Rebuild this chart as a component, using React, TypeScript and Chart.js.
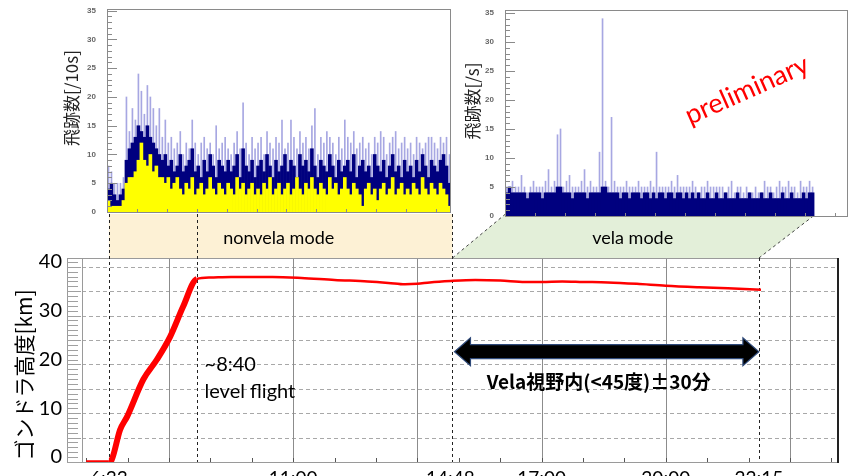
import React, { useEffect, useRef } from "react";
import { Chart, registerables } from "chart.js";
Chart.register(...registerables);

// ---------- bottom chart: gondola altitude ----------
const ALT_TIME_H = [6.0, 6.55, 6.62, 6.82, 6.99, 7.38, 7.71, 8.03, 8.34, 8.67, 9.0, 9.5, 10.5, 11.2, 12.0, 12.8, 13.3, 13.7, 14.0, 14.3, 14.8, 15.4, 16.0, 16.6, 17.0, 17.5, 18.0, 18.6, 19.3, 20.0, 20.8, 21.5, 22.3];
const ALT_KM = [0, 0, 0.5, 6.6, 9.3, 16.9, 21.0, 25.7, 31.8, 37.5, 37.8, 37.9, 37.9, 37.7, 37.3, 37.0, 36.7, 36.4, 36.5, 36.8, 37.1, 37.3, 37.2, 36.9, 36.9, 37.0, 36.9, 36.8, 36.5, 36.1, 35.8, 35.6, 35.3];
const X_TICK_VALUES = [6.55, 11, 14.8, 17, 20, 22.25];
const X_TICK_LABELS = ["6:33", "11:00", "14:48", "17:00", "20:00", "22:15"];
const X_GRID_HOURS = [8, 11, 14, 17, 20, 23];
const Y_TICKS = [0, 10, 20, 30, 40];
const T_START = 6.55; // 6:33
const T_LEVEL = 8.667; // 8:40
const T_VELA_START = 14.8; // 14:48
const T_VELA_END = 22.25; // 22:15
const ARROW_KM = 22.6;

// ---------- top-left histogram: nonvela mode [/10s] ----------
const NV_DARK = [
  4, 5, 3, 2, 3, 4, 9, 11, 12, 13,
  15, 14, 13, 15, 13, 12, 11, 10, 9, 10,
  8, 9, 7, 8, 10, 7, 8, 9, 11, 7,
  8, 6, 9, 7, 10, 8, 6, 9, 8, 7,
  9, 7, 8, 10, 6, 11, 8, 7, 9, 6,
  8, 9, 7, 10, 8, 6, 9, 7, 8, 10,
  7, 9, 8, 6, 10, 8, 9, 7, 11, 8,
  6, 9, 8, 7, 10, 8, 6, 9, 7, 8,
  9, 7, 10, 6, 8, 9, 7, 8, 6, 10,
  8, 7, 9, 6, 8, 10, 7, 8, 6, 9,
  7, 8, 6, 9, 7, 10, 8, 6, 9, 8,
  7, 9, 10, 8, 5,
];
const NV_LIGHT = [
  8, 7, 5, 5, 5, 6, 20, 14, 18, 16,
  24, 21, 17, 22, 20, 18, 15, 18, 13, 16,
  12, 13, 11, 12, 14, 10, 12, 11, 16, 12,
  10, 12, 13, 11, 12, 10, 15, 11, 12, 13,
  11, 10, 12, 14, 11, 19, 12, 10, 13, 11,
  12, 13, 10, 14, 12, 11, 13, 12, 16, 11,
  12, 16, 13, 11, 14, 12, 13, 11, 15, 18,
  10, 13, 12, 14, 13, 12, 10, 13, 11, 16,
  13, 12, 14, 11, 12, 13, 11, 12, 10, 13,
  12, 14, 13, 10, 12, 13, 14, 11, 12, 13,
  11, 12, 10, 13, 12, 11, 12, 13, 13, 12,
  11, 13, 12, 13, 10,
];
const NV_YELLOW = [
  2, 1, 1, 1, 1, 2, 5, 6, 6, 7,
  9, 12, 9, 8, 10, 7, 8, 6, 6, 5,
  6, 4, 5, 6, 4, 3, 5, 4, 6, 3,
  4, 5, 3, 4, 6, 4, 3, 5, 4, 3,
  5, 4, 3, 6, 4, 5, 3, 4, 5, 3,
  4, 3, 5, 4, 6, 3, 4, 5, 3, 4,
  5, 3, 4, 6, 4, 3, 5, 4, 6, 4,
  3, 5, 4, 3, 6, 4, 5, 3, 4, 6,
  4, 3, 5, 4, 3, 1, 4, 5, 3, 4,
  2, 4, 5, 3, 4, 6, 3, 4, 5, 3,
  4, 3, 5, 4, 3, 6, 4, 3, 5, 4,
  3, 5, 4, 3, 1,
];

// ---------- top-right histogram: vela mode [/s] ----------
const V_DARK = [
  4, 5, 4, 4, 4, 4, 4, 3, 4, 4,
  4, 4, 3, 4, 4, 4, 4, 5, 5, 4,
  4, 4, 3, 4, 4, 4, 4, 3, 4, 4,
  4, 4, 5, 5, 4, 4, 4, 4, 3, 4,
  4, 3, 4, 4, 4, 3, 4, 4, 3, 4,
  3, 4, 4, 3, 4, 4, 3, 4, 4, 3,
  4, 3, 4, 3, 4, 3, 3, 4, 3, 3,
  4, 3, 3, 4, 3, 3, 3, 4, 3, 3,
  3, 4, 3, 3, 3, 4, 3, 3, 4, 3,
  3, 3, 4, 3, 3, 4, 3, 3, 3, 4,
  3, 4, 4,
];
const V_LIGHT = [
  5, 5, 6, 5, 5, 7, 5, 4, 5, 6,
  5, 5, 5, 6, 8, 5, 6, 14, 15, 5,
  6, 7, 5, 5, 5, 6, 8, 5, 6, 5,
  5, 11, 34, 6, 5, 17, 6, 5, 5, 5,
  6, 5, 5, 5, 6, 5, 5, 5, 6, 5,
  11, 5, 5, 5, 5, 6, 5, 7, 5, 5,
  5, 5, 6, 5, 4, 5, 5, 6, 5, 5,
  5, 5, 5, 4, 5, 6, 4, 5, 5, 4,
  5, 4, 4, 5, 4, 4, 6, 5, 5, 4,
  5, 6, 5, 5, 6, 5, 5, 4, 6, 5,
  5, 6, 5,
];
const HIST_Y_TICKS = [0, 5, 10, 15, 20, 25, 30, 35];

const JP = '"Noto Sans CJK JP"';
const LAT = 'Lato, "Noto Sans CJK JP", sans-serif';

const toXY = (arr: number[]) => arr.map((v, i) => ({ x: i, y: v }));

function dashedLine(ctx: CanvasRenderingContext2D, x0: number, y0: number, x1: number, y1: number, dash: number[], color: string, w = 1) {
  ctx.save();
  ctx.beginPath();
  ctx.setLineDash(dash);
  ctx.strokeStyle = color;
  ctx.lineWidth = w;
  ctx.moveTo(x0, y0);
  ctx.lineTo(x1, y1);
  ctx.stroke();
  ctx.restore();
}

const altPlugin = {
  id: "altDeco",
  beforeDatasetsDraw(chart: any) {
    const { ctx, chartArea: a, scales } = chart;
    const x = scales.x, y = scales.y;
    const xs = x.getPixelForValue(T_START);
    const xl = x.getPixelForValue(T_LEVEL);
    const xv0 = x.getPixelForValue(T_VELA_START) + 2;
    const xv1 = x.getPixelForValue(T_VELA_END);
    const bandTop = 214, bandBot = a.top;
    ctx.save();
    // nonvela band
    ctx.fillStyle = "#fdf1d5";
    ctx.fillRect(xs, bandTop, xv0 - xs, bandBot - bandTop);
    // vela band (parallelogram towards the upper histogram)
    ctx.fillStyle = "#e3efd9";
    ctx.beginPath();
    ctx.moveTo(xv0, bandBot);
    ctx.lineTo(xv0 + 52, bandTop + 1);
    ctx.lineTo(xv1 + 56, bandTop + 1);
    ctx.lineTo(xv1, bandBot);
    ctx.closePath();
    ctx.fill();
    // band texts
    ctx.fillStyle = "#000";
    ctx.font = `18px ${LAT}`;
    ctx.textAlign = "center";
    ctx.textBaseline = "middle";
    ctx.fillText("nonvela mode", (xs + xv0) / 2 - 2, 238);
    ctx.fillText("vela mode", (xv0 + xv1) / 2 + 27, 238);

    // horizontal dashed grid every 5 km
    for (let v = 5; v <= 40; v += 5) {
      const py = Math.round(y.getPixelForValue(v)) + 0.5;
      dashedLine(ctx, a.left, py, a.right, py, [4, 3], "#a8a8a8", 1);
    }
    // vertical solid grid
    ctx.strokeStyle = "#8c8c8c";
    ctx.lineWidth = 1;
    for (const h of X_GRID_HOURS) {
      const px = Math.round(x.getPixelForValue(h)) + 0.5;
      ctx.beginPath();
      ctx.moveTo(px, a.top);
      ctx.lineTo(px, a.bottom);
      ctx.stroke();
    }
    // frame
    ctx.strokeStyle = "#9a9a9a";
    ctx.beginPath();
    ctx.moveTo(67, a.top + 0.5);
    ctx.lineTo(a.right, a.top + 0.5);
    ctx.moveTo(67, a.bottom + 0.5);
    ctx.lineTo(a.right, a.bottom + 0.5);
    ctx.moveTo(67.5, a.top);
    ctx.lineTo(67.5, a.bottom);
    ctx.moveTo(a.left + 0.5, a.top);
    ctx.lineTo(a.left + 0.5, a.bottom);
    ctx.stroke();
    ctx.strokeStyle = "#222";
    ctx.lineWidth = 2;
    ctx.beginPath();
    ctx.moveTo(a.right, a.top);
    ctx.lineTo(a.right, a.bottom + 1);
    ctx.stroke();
    // y minor ticks (every km)
    ctx.strokeStyle = "#a0a0a0";
    ctx.lineWidth = 1;
    for (let v = 0; v <= 41; v++) {
      const py = Math.round(y.getPixelForValue(v)) + 0.5;
      ctx.beginPath();
      ctx.moveTo(67, py);
      ctx.lineTo(v % 5 === 0 ? 81 : 78, py);
      ctx.stroke();
    }
    // x minor ticks (every hour)
    ctx.strokeStyle = "#555";
    for (let h = 6; h <= 24; h++) {
      const px = Math.round(x.getPixelForValue(h)) + 0.5;
      ctx.beginPath();
      ctx.moveTo(px, a.bottom);
      ctx.lineTo(px, a.bottom - 4);
      ctx.stroke();
    }
    // black dashed markers
    dashedLine(ctx, Math.round(xs) + 0.5, bandTop, Math.round(xs) + 0.5, a.bottom, [3, 3], "#222");
    dashedLine(ctx, Math.round(xl) + 0.5, bandTop, Math.round(xl) + 0.5, a.bottom, [3, 3], "#222");
    dashedLine(ctx, Math.round(xv0) + 0.5, bandTop, Math.round(xv0) + 0.5, a.bottom, [3, 3], "#222");
    dashedLine(ctx, Math.round(xv1) + 0.5, bandBot, Math.round(xv1) + 0.5, a.bottom, [3, 3], "#222");
    dashedLine(ctx, xv0, bandBot, xv0 + 53, bandTop, [3, 3], "#444");
    dashedLine(ctx, xv1, bandBot, xv1 + 57, bandTop, [3, 3], "#444");

    // y-axis title
    ctx.save();
    ctx.translate(24, 375);
    ctx.rotate(-Math.PI / 2);
    ctx.fillStyle = "#000";
    ctx.font = `21px ${JP}`;
    ctx.textAlign = "center";
    ctx.textBaseline = "middle";
    ctx.fillText("ゴンドラ高度[km]", 0, 0);
    ctx.restore();
    ctx.restore();
  },
  afterDatasetsDraw(chart: any) {
    const { ctx, scales } = chart;
    const x = scales.x, y = scales.y;
    const xl = x.getPixelForValue(T_LEVEL);
    const ax0 = x.getPixelForValue(T_VELA_START) + 4;
    const ax1 = x.getPixelForValue(T_VELA_END);
    const ay = y.getPixelForValue(ARROW_KM);
    const hl = 16, hh = 14, sh = 7;
    ctx.save();
    ctx.beginPath();
    ctx.moveTo(ax0, ay);
    ctx.lineTo(ax0 + hl, ay - hh);
    ctx.lineTo(ax0 + hl, ay - sh);
    ctx.lineTo(ax1 - hl, ay - sh);
    ctx.lineTo(ax1 - hl, ay - hh);
    ctx.lineTo(ax1, ay);
    ctx.lineTo(ax1 - hl, ay + hh);
    ctx.lineTo(ax1 - hl, ay + sh);
    ctx.lineTo(ax0 + hl, ay + sh);
    ctx.lineTo(ax0 + hl, ay + hh);
    ctx.closePath();
    ctx.fillStyle = "#000";
    ctx.fill();
    ctx.strokeStyle = "#2f4a7a";
    ctx.lineWidth = 1.2;
    ctx.stroke();

    ctx.fillStyle = "#000";
    ctx.textBaseline = "middle";
    ctx.textAlign = "center";
    ctx.font = `bold 19px ${JP}`;
    ctx.fillText("Vela視野内(<45度)±30分", (ax0 + ax1) / 2 - 8, ay + 30);

    ctx.textAlign = "left";
    ctx.font = `20px ${LAT}`;
    ctx.fillText("~8:40", xl + 8, 365);
    ctx.fillText("level flight", xl + 8, 392);
    ctx.restore();
  },
};

function histPlugin(title: string, tx: number, ty: number, prelim: boolean) {
  return {
    id: "histDeco",
    afterDatasetsDraw(chart: any) {
      const { ctx, chartArea: a, scales } = chart;
      const y = scales.y, x = scales.x;
      ctx.save();
      ctx.strokeStyle = "#8a8a8a";
      ctx.lineWidth = 1;
      ctx.strokeRect(Math.round(a.left) + 0.5, Math.round(a.top) + 0.5, Math.round(a.right - a.left) - 1, Math.round(a.bottom - a.top));
      for (let v = 0; v <= 35; v++) {
        const py = Math.round(y.getPixelForValue(v)) + 0.5;
        ctx.beginPath();
        ctx.moveTo(a.left, py);
        ctx.lineTo(a.left + (v % 5 === 0 ? 10 : 5), py);
        ctx.stroke();
      }
      for (let i = 0; i <= x.max; i += 10) {
        const px = Math.round(x.getPixelForValue(i - 0.5)) + 0.5;
        ctx.beginPath();
        ctx.moveTo(px, a.bottom);
        ctx.lineTo(px, a.bottom - 3);
        ctx.stroke();
      }
      ctx.save();
      ctx.translate(tx, ty);
      ctx.rotate(-Math.PI / 2);
      ctx.fillStyle = "#222";
      ctx.font = `17px ${JP}`;
      ctx.textAlign = "center";
      ctx.textBaseline = "middle";
      ctx.fillText(title, 0, 0);
      ctx.restore();
      if (prelim) {
        ctx.save();
        ctx.translate(747, 90);
        ctx.rotate((-24 * Math.PI) / 180);
        ctx.fillStyle = "#ff0000";
        ctx.font = `27px ${LAT}`;
        ctx.textAlign = "center";
        ctx.textBaseline = "middle";
        ctx.fillText("preliminary", 0, 0);
        ctx.restore();
      }
      ctx.restore();
    },
  };
}

function histConfig(p: {
  dark: number[]; light: number[]; yellow?: number[];
  left: number; right: number; top: number; bottom: number; yMax: number; xMax: number;
  title: string; tx: number; ty: number; prelim: boolean;
}): any {
  const datasets: any[] = [];
  if (p.yellow) {
    datasets.push({ data: toXY(p.yellow), backgroundColor: "#ffff00", grouped: false, barPercentage: 1, categoryPercentage: 1, borderWidth: 0 });
  }
  datasets.push({ data: toXY(p.dark), backgroundColor: "#00007f", grouped: false, barPercentage: 1, categoryPercentage: 1, borderWidth: 0 });
  datasets.push({ data: toXY(p.light), backgroundColor: "rgba(60,60,190,0.45)", grouped: false, barThickness: 1, borderWidth: 0 });
  return {
    type: "bar",
    data: { datasets },
    options: {
      animation: false,
      responsive: false,
      events: [],
      layout: { padding: { top: p.top, right: 850 - p.right, left: 0, bottom: 0 } },
      plugins: { legend: { display: false }, tooltip: { enabled: false } },
      scales: {
        x: {
          type: "linear", min: -0.5, max: p.xMax, offset: false,
          grid: { display: false }, border: { display: false },
          ticks: { display: false },
          afterFit: (s: any) => { s.height = 476 - p.bottom; },
        },
        y: {
          min: 0, max: p.yMax,
          grid: { display: false }, border: { display: false },
          afterBuildTicks: (s: any) => { s.ticks = HIST_Y_TICKS.map((v) => ({ value: v })); },
          ticks: { padding: 3, color: "#666", font: { family: '"Liberation Sans", Arial, sans-serif', size: 8, weight: "bold" } },
          afterFit: (s: any) => { s.width = p.left; },
        },
      },
    },
    plugins: [histPlugin(p.title, p.tx, p.ty, p.prelim)],
  };
}

export default function App() {
  const altRef = useRef<HTMLCanvasElement>(null);
  const nvRef = useRef<HTMLCanvasElement>(null);
  const vRef = useRef<HTMLCanvasElement>(null);

  useEffect(() => {
    const charts: Chart[] = [];
    const alt = new Chart(altRef.current as HTMLCanvasElement, {
      type: "line",
      data: {
        datasets: [
          {
            data: ALT_TIME_H.map((t, i) => ({ x: t, y: ALT_KM[i] })),
            borderColor: "#ff0000",
            borderWidth: 2.5,
            pointRadius: 0,
            cubicInterpolationMode: "monotone",
            segment: {
              borderWidth: (c: any) => (c.p1.parsed.x <= 6.56 ? 3.5 : c.p0.parsed.x < 8.6 ? 6 : 2.5),
            },
          } as any,
        ],
      },
      options: {
        animation: false,
        responsive: false,
        events: [],
        layout: { padding: { top: 258, right: 12, left: 0, bottom: 0 } },
        plugins: { legend: { display: false }, tooltip: { enabled: false } },
        scales: {
          x: {
            type: "linear", min: 5.9, max: 24.16,
            grid: { display: true, drawOnChartArea: false, drawTicks: true, tickLength: 2, tickColor: "rgba(0,0,0,0)" },
            border: { display: false },
            afterBuildTicks: (s: any) => { s.ticks = X_TICK_VALUES.map((v) => ({ value: v })); },
            ticks: {
              autoSkip: false, maxRotation: 0, padding: 3, color: "#000",
              font: { family: LAT, size: 19 },
              callback: (_v: any, i: number) => X_TICK_LABELS[i],
            },
            afterFit: (s: any) => { s.height = 14; },
          },
          y: {
            type: "linear", min: 0, max: 41.8,
            grid: { display: true, drawOnChartArea: false, drawTicks: true, tickLength: 18, tickColor: "rgba(0,0,0,0)" },
            border: { display: false },
            afterBuildTicks: (s: any) => { s.ticks = Y_TICKS.map((v) => ({ value: v })); },
            ticks: { padding: 2, labelOffset: -5, color: "#000", font: { family: LAT, size: 20 } },
            afterFit: (s: any) => { s.width = 82; },
          },
        },
      } as any,
      plugins: [altPlugin],
    });
    charts.push(alt);

    charts.push(new Chart(nvRef.current as HTMLCanvasElement, histConfig({
      dark: NV_DARK, light: NV_LIGHT, yellow: NV_YELLOW,
      left: 107, right: 451, top: 9, bottom: 212, yMax: 35.3, xMax: 114.5,
      title: "飛跡数[/10s]", tx: 72, ty: 98, prelim: false,
    })));
    charts.push(new Chart(vRef.current as HTMLCanvasElement, histConfig({
      dark: V_DARK, light: V_LIGHT,
      left: 505, right: 848, top: 10, bottom: 216, yMax: 35.5, xMax: 113.8,
      title: "飛跡数[/s]", tx: 473, ty: 101, prelim: true,
    })));
    return () => charts.forEach((c) => c.destroy());
  }, []);

  const cs: React.CSSProperties = { position: "absolute", left: 0, top: 0 };
  return (
    <div style={{ position: "absolute", left: 0, top: 0, width: 850, height: 476, background: "#fff", overflow: "hidden" }}>
      <canvas ref={altRef} width={850} height={476} style={cs} />
      <canvas ref={nvRef} width={850} height={476} style={cs} />
      <canvas ref={vRef} width={850} height={476} style={cs} />
    </div>
  );
}
